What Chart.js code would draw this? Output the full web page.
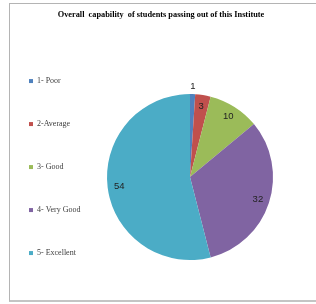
<!DOCTYPE html>
<html>
<head>
<meta charset="utf-8">
<script src="https://cdn.jsdelivr.net/npm/chart.js@4/dist/chart.umd.min.js"></script>
<style>
  html, body { margin: 0; padding: 0; background: #fff; overflow: hidden; width: 316px; height: 304px; }
  #frame { position: absolute; left: 9px; top: 3px; width: 330px; height: 296px; border: 1px solid #b4b4b4; border-bottom-width: 2px; border-bottom-color: #c4c4c4; }
  #wrap { position: absolute; left: -6px; top: 0; width: 334px; height: 312px; }
</style>
</head>
<body>
<div id="frame"></div>
<div id="wrap"><canvas id="pieChart"></canvas></div>
<script>
// Chart data
const categories = ['1- Poor', '2-Average', '3- Good', '4- Very Good', '5- Excellent'];
const values = [1, 3, 10, 32, 54];
const colors = ['#4f81bd', '#c0504d', '#9bbb59', '#8064a2', '#4bacc6'];
const chartTitle = 'Overall  capability  of students passing out of this Institute';

// Narrow legend box for layout, then widen it again so labels are not clipped
const legendWidth = {
    id: 'legendWidth',
    beforeInit(chart) {
        const fit = chart.legend.fit;
        chart.legend.fit = function () {
            fit.call(this);
            this.width = 58;
        };
    },
    afterLayout(chart) {
        const lg = chart.legend;
        lg.width = 160;
        lg.right = lg.left + 160;
    }
};

// Value labels on slices
const valueLabels = {
    id: 'valueLabels',
    afterDatasetsDraw(chart) {
        const ctx = chart.ctx;
        const meta = chart.getDatasetMeta(0);
        ctx.save();
        ctx.font = '9.5px "Liberation Sans", Arial, sans-serif';
        ctx.fillStyle = '#222';
        ctx.textAlign = 'center';
        ctx.textBaseline = 'middle';
        meta.data.forEach((arc, i) => {
            const p = arc.getProps(['x', 'y', 'startAngle', 'endAngle', 'outerRadius'], true);
            const mid = (p.startAngle + p.endAngle) / 2;
            const r = values[i] < 2 ? p.outerRadius + 8 : p.outerRadius * 0.86;
            ctx.fillText(String(values[i]), p.x + Math.cos(mid) * r, p.y + Math.sin(mid) * r);
        });
        ctx.restore();
    }
};

const pieCtx = document.getElementById('pieChart').getContext('2d');
const pieChart = new Chart(pieCtx, {
    type: 'pie',
    data: {
        labels: categories,
        datasets: [{
            data: values,
            backgroundColor: colors,
            borderWidth: 0,
            radius: 83,
            clip: false
        }]
    },
    options: {
        responsive: true,
        maintainAspectRatio: false,
        animation: false,
        layout: { padding: 0 },
        plugins: {
            title: {
                display: true,
                text: chartTitle,
                color: '#000',
                font: { family: '"Liberation Serif", "Times New Roman", serif', size: 8.3, weight: 'bold' },
                padding: { top: 10, bottom: 22.1 }
            },
            legend: {
                position: 'left',
                align: 'start',
                fullSize: false,
                labels: {
                    boxWidth: 4,
                    boxHeight: 4,
                    padding: 35,
                    color: '#404040',
                    font: { family: '"Liberation Serif", "Times New Roman", serif', size: 8 }
                }
            },
            tooltip: { enabled: false }
        }
    },
    plugins: [legendWidth, valueLabels]
});
</script>
</body>
</html>
